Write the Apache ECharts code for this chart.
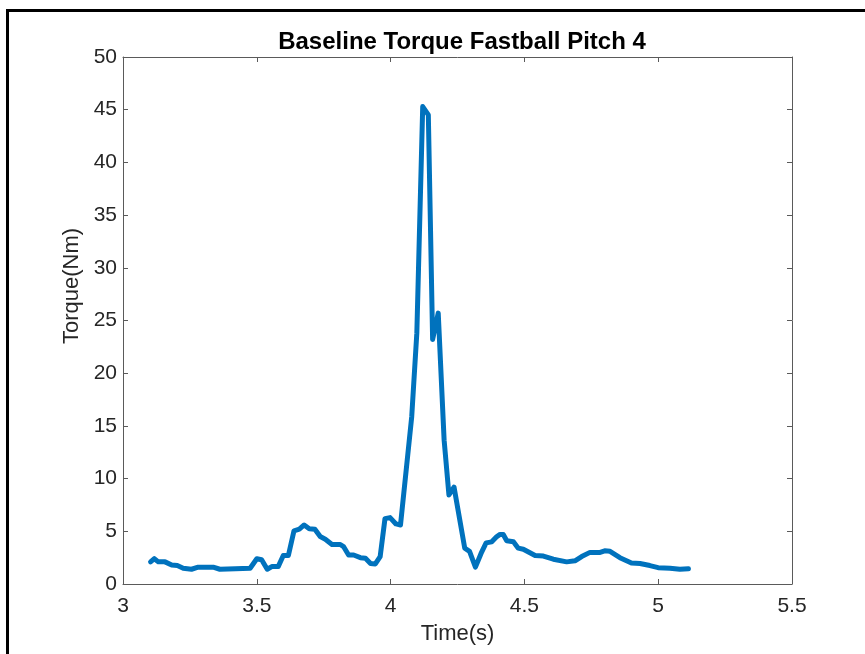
<!DOCTYPE html>
<html>
<head>
<meta charset="utf-8">
<script src="https://cdn.jsdelivr.net/npm/echarts@6/dist/echarts.min.js"></script>
<style>html,body{margin:0;padding:0;background:#fff}#c{width:865px;height:654px}</style>
</head>
<body>
<div id="c"></div>
<script>
const titleText = 'Baseline Torque Fastball Pitch 4';
const xName = 'Time(s)';
const yName = 'Torque(Nm)';
const xTicks = [3, 3.5, 4, 4.5, 5, 5.5];
const yTicks = [0, 5, 10, 15, 20, 25, 30, 35, 40, 45, 50];
const time = [3.103, 3.117, 3.132, 3.157, 3.182, 3.203, 3.225, 3.256, 3.281, 3.337, 3.362, 3.42, 3.475, 3.5, 3.518, 3.539, 3.556, 3.58, 3.599, 3.618, 3.639, 3.659, 3.677, 3.696, 3.717, 3.737, 3.756, 3.781, 3.812, 3.824, 3.843, 3.862, 3.887, 3.906, 3.925, 3.943, 3.961, 3.979, 3.998, 4.02, 4.037, 4.079, 4.098, 4.12, 4.141, 4.157, 4.178, 4.2, 4.218, 4.237, 4.277, 4.295, 4.317, 4.338, 4.357, 4.378, 4.397, 4.409, 4.421, 4.434, 4.459, 4.477, 4.496, 4.54, 4.571, 4.608, 4.658, 4.689, 4.714, 4.745, 4.783, 4.8, 4.82, 4.857, 4.9, 4.932, 4.969, 5.0, 5.044, 5.081, 5.113];
const torque = [2.1, 2.4, 2.1, 2.1, 1.8, 1.75, 1.5, 1.4, 1.6, 1.6, 1.4, 1.45, 1.5, 2.4, 2.3, 1.4, 1.65, 1.65, 2.7, 2.7, 5.05, 5.2, 5.6, 5.25, 5.2, 4.5, 4.25, 3.75, 3.75, 3.55, 2.75, 2.75, 2.5, 2.45, 1.95, 1.9, 2.6, 6.2, 6.3, 5.7, 5.6, 15.9, 23.8, 45.3, 44.5, 23.2, 25.7, 13.65, 8.45, 9.2, 3.4, 3.1, 1.6, 2.9, 3.9, 4.0, 4.5, 4.7, 4.7, 4.1, 4.0, 3.4, 3.3, 2.7, 2.65, 2.35, 2.1, 2.2, 2.6, 3.0, 3.0, 3.15, 3.1, 2.5, 2.0, 1.95, 1.75, 1.55, 1.5, 1.4, 1.45];

const font = 'Liberation Sans, Arial, Helvetica, sans-serif';
const axisCol = '#262626';
const lineCol = '#5a5a5a';
const chart = echarts.init(document.getElementById('c'));
const xCommon = {
  type: 'value', min: xTicks[0], max: xTicks[xTicks.length - 1], interval: 0.5,
  axisLine: { show: true, onZero: false, lineStyle: { color: lineCol, width: 1 } },
  axisTick: { show: true, inside: true, length: 5, lineStyle: { color: lineCol } },
  splitLine: { show: false }
};
const yCommon = {
  type: 'value', min: yTicks[0], max: yTicks[yTicks.length - 1], interval: 5,
  axisLine: { show: true, onZero: false, lineStyle: { color: lineCol, width: 1 } },
  axisTick: { show: true, inside: true, length: 5, lineStyle: { color: lineCol } },
  splitLine: { show: false }
};
chart.setOption({
  backgroundColor: '#fff',
  animation: false,
  title: {
    text: titleText, left: 457, top: 25, textAlign: 'center',
    textStyle: { fontFamily: font, fontSize: 24, fontWeight: 'bold', color: '#000' }
  },
  grid: { left: 123, right: 73, top: 57, bottom: 70 },
  xAxis: [
    Object.assign({}, xCommon, {
      position: 'bottom', name: xName, nameLocation: 'middle', nameGap: 39,
      nameTextStyle: { fontFamily: font, fontSize: 22, color: axisCol },
      axisLabel: { show: true, margin: 12, fontFamily: font, fontSize: 21, color: axisCol,
        formatter: v => String(v) }
    }),
    Object.assign({}, xCommon, { position: 'top', axisLabel: { show: false } })
  ],
  yAxis: [
    Object.assign({}, yCommon, {
      position: 'left',
      axisLabel: { show: true, margin: 6, fontFamily: font, fontSize: 21, color: axisCol }
    }),
    Object.assign({}, yCommon, { position: 'right', axisLabel: { show: false } })
  ],
  series: [{
    type: 'line', xAxisIndex: 0, yAxisIndex: 0,
    data: time.map((t, i) => [t, torque[i]]),
    showSymbol: false, symbol: 'none',
    lineStyle: { color: '#0072BD', width: 5, join: 'round', cap: 'round' }
  }],
  graphic: [{
    type: 'text', x: 72, y: 286, rotation: Math.PI / 2, z: 50,
    style: { text: yName, fontFamily: font, fontSize: 22, fill: axisCol,
      align: 'center', verticalAlign: 'middle' }
  }, {
    type: 'rect', z: 100,
    shape: { x: 7.5, y: 10.5, width: 900, height: 700 },
    style: { fill: null, stroke: '#000', lineWidth: 3 }
  }]
});
</script>
</body>
</html>
